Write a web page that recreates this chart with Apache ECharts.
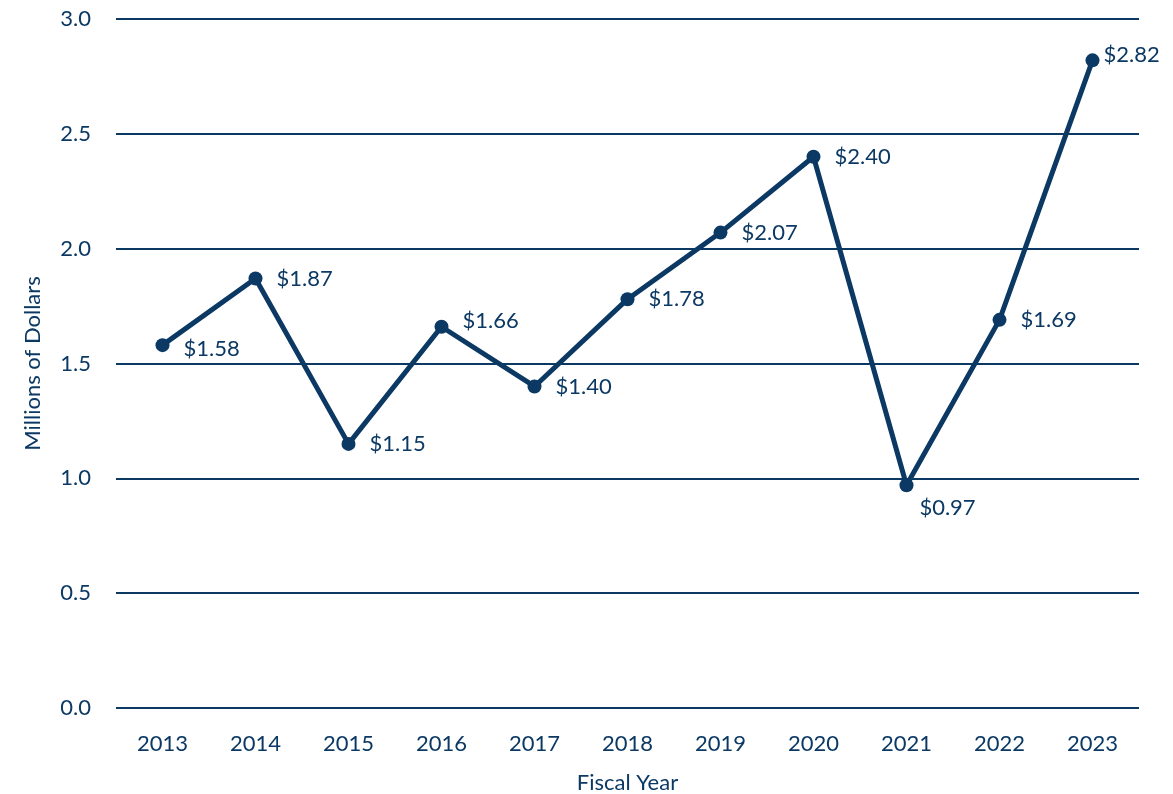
<!DOCTYPE html>
<html>
<head>
<meta charset="utf-8">
<script src="https://cdn.jsdelivr.net/npm/echarts@6/dist/echarts.min.js"></script>
<style>
  html, body {margin: 0; padding: 0; background: #fff;}
  #chart {width: 1173px; height: 794px;}
</style>
</head>
<body>
<div id="chart"></div>
<script>
const years = ['2013', '2014', '2015', '2016', '2017', '2018', '2019', '2020', '2021', '2022', '2023'];
const values = [1.58, 1.87, 1.15, 1.66, 1.40, 1.78, 2.07, 2.40, 0.97, 1.69, 2.82];
const yTicks = [0, 0.5, 1, 1.5, 2, 2.5, 3];

const navy = '#0b3964';
const font = 'Lato, "Open Sans", sans-serif';

// label placement tweaks, per point
const labelTweaks = {
  0: {offset: [0, 4]},
  3: {offset: [0, -6]},
  8: {position: 'bottom', offset: [41, -9]},
  10: {distance: 4, offset: [0, -5]}
};

const chart = echarts.init(document.getElementById('chart'));
chart.setOption({
  animation: false,
  grid: {left: 116, right: 34, top: 19, bottom: 86, outerBoundsMode: 'none'},
  xAxis: {
    type: 'category',
    data: years,
    name: 'Fiscal Year',
    nameLocation: 'middle',
    nameGap: 64,
    nameTextStyle: {color: navy, fontSize: 22, fontFamily: font},
    axisLine: {show: false},
    axisTick: {show: false},
    axisLabel: {color: navy, fontSize: 22, fontFamily: font, margin: 25}
  },
  yAxis: {
    type: 'value',
    min: yTicks[0],
    max: yTicks[yTicks.length - 1],
    interval: 0.5,
    name: 'Millions of Dollars',
    nameLocation: 'middle',
    nameGap: 72,
    nameTextStyle: {color: navy, fontSize: 22, fontFamily: font},
    axisLine: {show: false},
    axisTick: {show: false},
    axisLabel: {
      color: navy, fontSize: 22, fontFamily: font, margin: 25,
      formatter: v => v.toFixed(1)
    },
    splitLine: {lineStyle: {color: navy, width: 2}}
  },
  series: [{
    type: 'line',
    data: values.map((v, i) => ({value: v, label: labelTweaks[i] || {}})),
    symbol: 'circle',
    symbolSize: 14,
    itemStyle: {color: navy},
    lineStyle: {color: navy, width: 5},
    label: {
      show: true,
      position: 'right',
      distance: 14,
      color: navy,
      fontSize: 22,
      fontFamily: font,
      formatter: p => '$' + p.value.toFixed(2)
    }
  }]
});
</script>
</body>
</html>
